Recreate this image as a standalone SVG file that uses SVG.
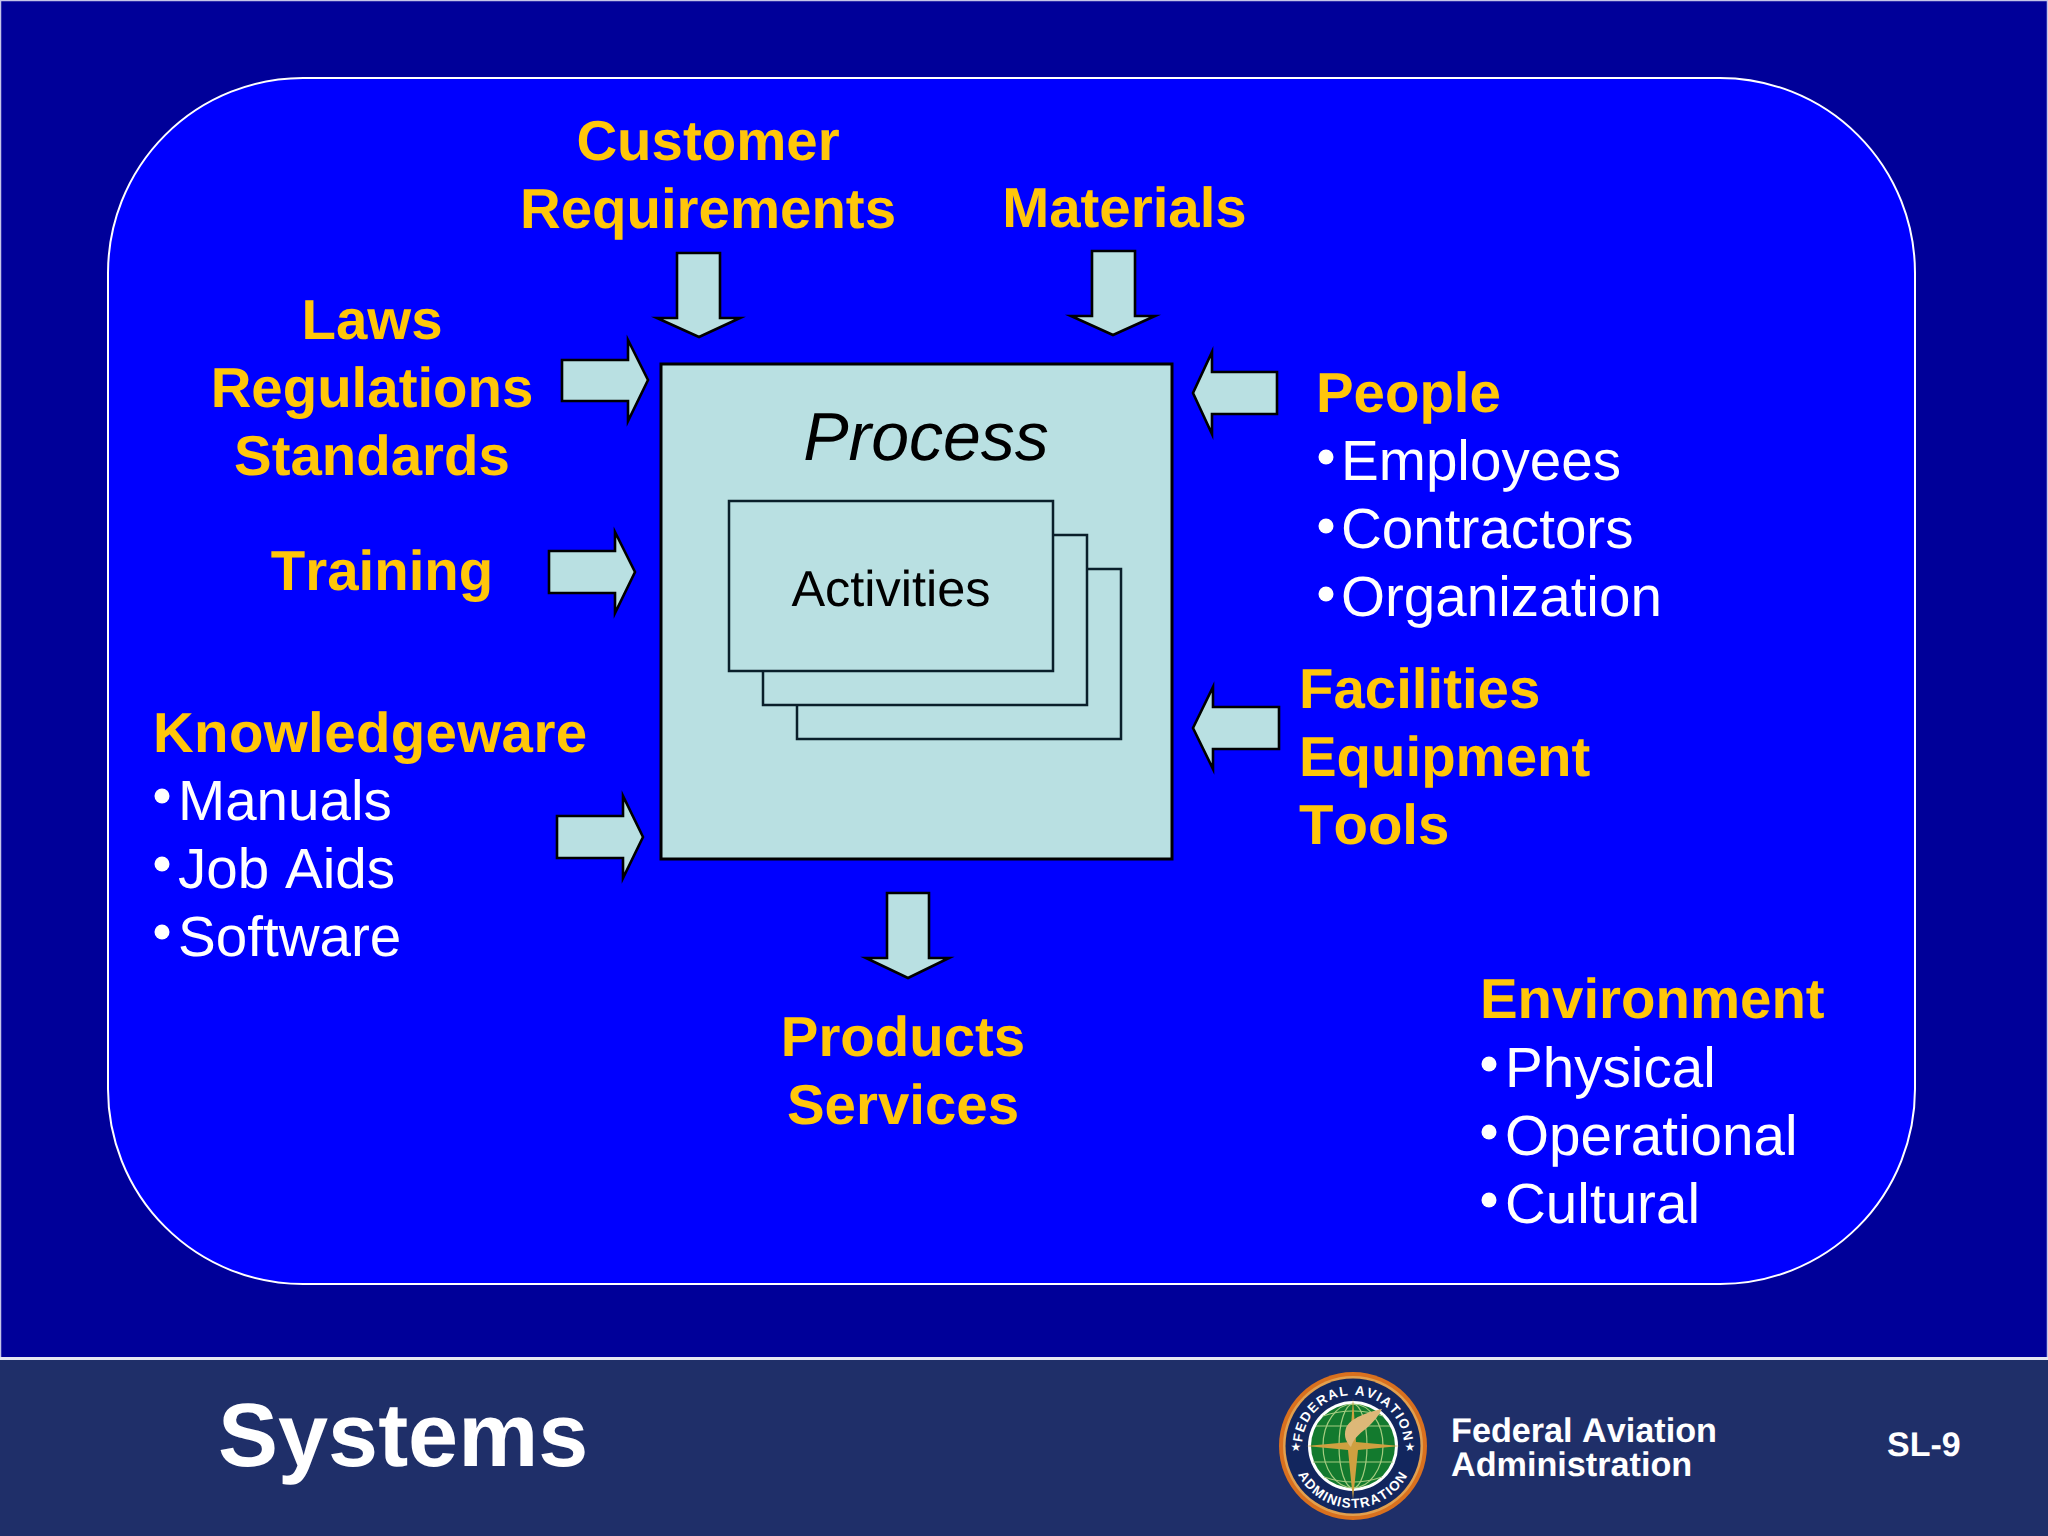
<svg xmlns="http://www.w3.org/2000/svg" width="2048" height="1536" viewBox="0 0 2048 1536">
<style>
text{font-family:"Liberation Sans",Arial,sans-serif;text-rendering:geometricPrecision;font-kerning:none}
.h{font-size:56.4px;font-weight:700;fill:#FFC60A}
.m{text-anchor:middle}
.w{font-size:56.6px;fill:#fff}
.b{fill:#fff}
.ar{fill:#B9E0E2;stroke:#000;stroke-width:2.6;stroke-linejoin:miter;stroke-miterlimit:6}
.box{fill:#B9E0E2;stroke:#000;stroke-width:3}
.sm{fill:#B9E0E2;stroke:#0a1f2a;stroke-width:2.5}
.ft{font-size:34.2px;font-weight:700;fill:#fff}
.lg{font-size:13.5px;font-weight:700;fill:#fff;letter-spacing:1.3px}
.grid{fill:none;stroke:#a5cc80;stroke-width:1.2}
</style>
<defs>
<path id="arcTop" d="M1302 1446A51 51 0 0 1 1404 1446"/>
<path id="arcBot" d="M1291 1446A62 62 0 0 0 1415 1446"/>
</defs>
<g id="background">
<rect width="2048" height="1536" fill="#000099"/>
<rect x="0.5" y="0.5" width="2047" height="1358" fill="none" stroke="#c4c4e8" stroke-width="1.5"/>
<rect x="108" y="78" width="1807" height="1206" rx="195" ry="195" fill="#0000FF" stroke="#fff" stroke-width="2"/>
</g>
<g id="footer">
<rect y="1360" width="2048" height="176" fill="#1F2F69"/>
<rect y="1357" width="2048" height="3" fill="#e4e6f0"/>
<text x="218" y="1466" font-size="90" font-weight="700" fill="#fff">Systems</text>
<g id="faa-seal">
<circle cx="1353" cy="1446" r="74" fill="#D9701E"/>
<circle cx="1353" cy="1446" r="70" fill="#E2A04E"/>
<circle cx="1353" cy="1446" r="67.5" fill="#12265E"/>
<circle cx="1353" cy="1446" r="45" fill="#fff"/>
<circle cx="1353" cy="1446" r="42" fill="#137A2E"/>
<ellipse class="grid" cx="1353" cy="1446" rx="14" ry="42"/>
<ellipse class="grid" cx="1353" cy="1446" rx="30" ry="42"/>
<path class="grid" d="M1316 1426H1390M1313 1462H1393M1323 1416Q1353 1406 1383 1416M1324 1477Q1353 1487 1382 1477"/>
<polygon fill="#CFA040" points="1353,1398 1356,1442 1400,1446 1358,1450 1353,1500 1348,1450 1306,1446 1350,1442"/>
<path fill="#DDB878" d="M1382 1409C1368 1412 1350 1418 1346 1428C1343 1437 1347 1443 1351 1447C1353 1440 1357 1436 1363 1431C1371 1425 1378 1417 1382 1409Z"/>
<text class="lg"><textPath href="#arcTop" startOffset="50%" text-anchor="middle">FEDERAL AVIATION</textPath></text>
<text class="lg"><textPath href="#arcBot" startOffset="50%" text-anchor="middle">ADMINISTRATION</textPath></text>
<text x="1296" y="1451" font-size="12" fill="#fff" text-anchor="middle">★</text>
<text x="1410" y="1451" font-size="12" fill="#fff" text-anchor="middle">★</text>
</g>
<text class="ft" x="1451" y="1442">Federal Aviation</text>
<text class="ft" x="1451" y="1476">Administration</text>
<text x="1887" y="1456" font-size="34" font-weight="700" fill="#fff">SL-9</text>
</g>
<g id="connectors">
<polygon class="ar" points="677,253 720,253 720,318 740,318 699,337 657,318 677,318"/>
<polygon class="ar" points="1092,251 1135,251 1135,316 1155,316 1113,335 1071,316 1092,316"/>
<polygon class="ar" points="562,360 628,360 628,340 648,380 628,421 628,401 562,401"/>
<polygon class="ar" points="549,551 615,551 615,532 635,572 615,613 615,593 549,593"/>
<polygon class="ar" points="557,816 623,816 623,796 643,837 623,878 623,858 557,858"/>
<polygon class="ar" points="1277,372 1212,372 1212,352 1193,393 1212,434 1212,414 1277,414"/>
<polygon class="ar" points="1279,707 1213,707 1213,687 1193,728 1213,769 1213,749 1279,749"/>
<polygon class="ar" points="887,893 929,893 929,958 949,958 908,978 866,958 887,958"/>
</g>
<g id="process">
<rect class="box" x="661" y="364" width="511" height="495"/>
<text class="m" x="926" y="460" font-size="68" font-style="italic" fill="#000">Process</text>
<rect class="sm" x="797" y="569" width="324" height="170"/>
<rect class="sm" x="763" y="535" width="324" height="170"/>
<g id="activities">
<rect class="sm" x="729" y="501" width="324" height="170"/>
<text class="m" x="891" y="606" font-size="50.5" fill="#000">Activities</text>
</g>
</g>
<g id="customer-requirements">
<text class="h m" x="708" y="160">Customer</text>
<text class="h m" x="708" y="228">Requirements</text>
</g>
<g id="materials"><text class="h m" x="1124.5" y="227">Materials</text></g>
<g id="laws">
<text class="h m" x="372" y="339">Laws</text>
<text class="h m" x="372" y="407">Regulations</text>
<text class="h m" x="372" y="475">Standards</text>
</g>
<g id="training"><text class="h m" x="382" y="590">Training</text></g>
<g id="knowledgeware">
<text class="h" x="153" y="752" style="letter-spacing:.4px">Knowledgeware</text>
<circle class="b" cx="162" cy="796" r="7.5"/><text class="w" x="178" y="820">Manuals</text>
<circle class="b" cx="162" cy="864" r="7.5"/><text class="w" x="178" y="888">Job Aids</text>
<circle class="b" cx="162" cy="932" r="7.5"/><text class="w" x="178" y="956">Software</text>
</g>
<g id="people">
<text class="h" x="1316" y="412">People</text>
<circle class="b" cx="1326" cy="457" r="7.5"/><text class="w" x="1341" y="480">Employees</text>
<circle class="b" cx="1326" cy="526" r="7.5"/><text class="w" x="1341" y="548">Contractors</text>
<circle class="b" cx="1326" cy="594" r="7.5"/><text class="w" x="1341" y="616">Organization</text>
</g>
<g id="facilities">
<text class="h" x="1299" y="708">Facilities</text>
<text class="h" x="1299" y="776">Equipment</text>
<text class="h" x="1299" y="844">Tools</text>
</g>
<g id="products">
<text class="h m" x="903" y="1056">Products</text>
<text class="h m" x="903" y="1124">Services</text>
</g>
<g id="environment">
<text class="h" x="1480" y="1018">Environment</text>
<circle class="b" cx="1489" cy="1064" r="7.5"/><text class="w" x="1505" y="1087">Physical</text>
<circle class="b" cx="1489" cy="1132" r="7.5"/><text class="w" x="1505" y="1155">Operational</text>
<circle class="b" cx="1489" cy="1200" r="7.5"/><text class="w" x="1505" y="1223">Cultural</text>
</g>
</svg>
